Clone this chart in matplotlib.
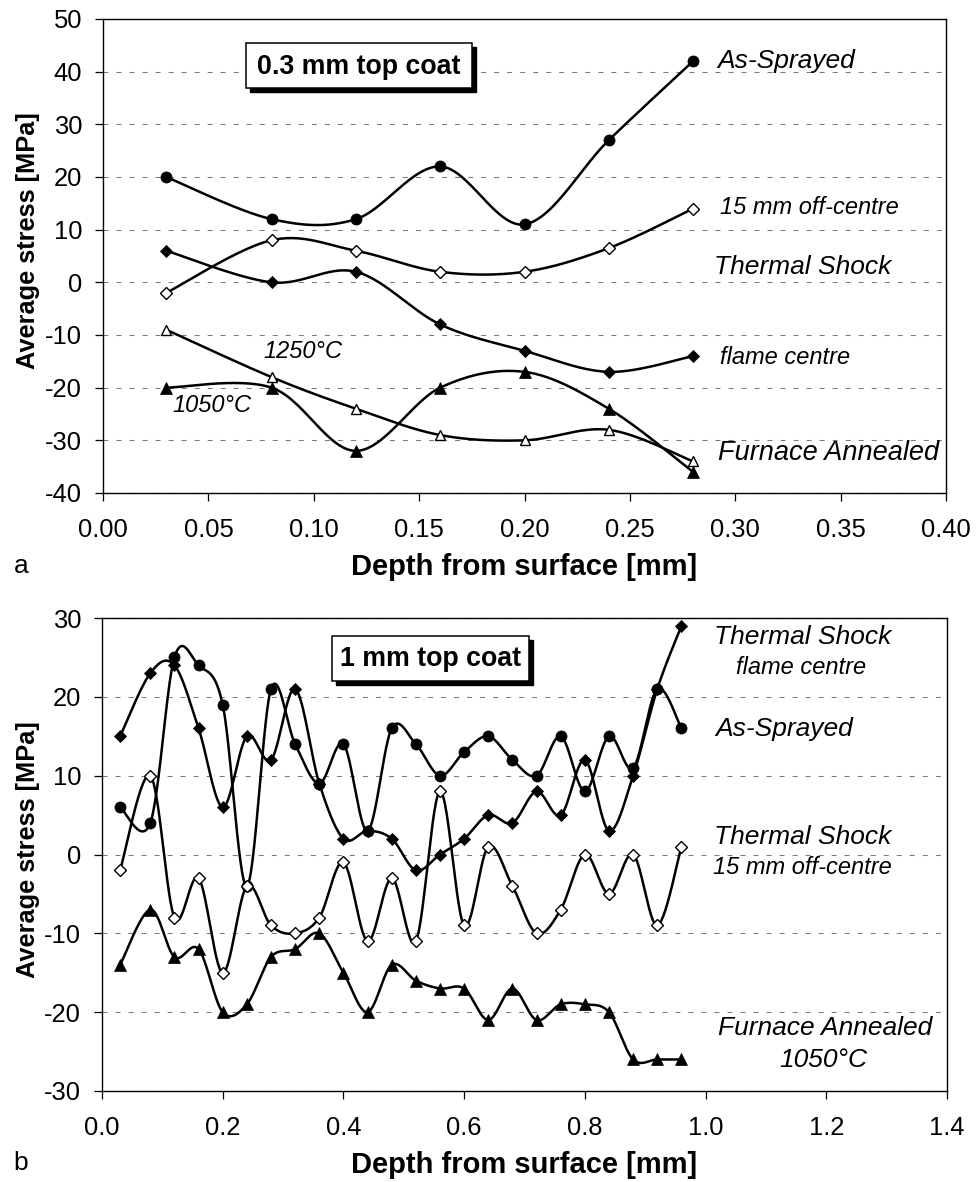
import numpy as np
import matplotlib
matplotlib.use('Agg')
import matplotlib.pyplot as plt
from matplotlib.patches import Rectangle

plt.rcParams['font.family'] = ['Liberation Sans', 'DejaVu Sans']

W, H = 980, 1182

# ---------------- data: (a) 0.3 mm top coat ----------------
depth_a = [0.03, 0.08, 0.12, 0.16, 0.20, 0.24, 0.28]
as_sprayed_a = [20, 12, 12, 22, 11, 27, 42]
ts_offcentre_a = [-2, 8, 6, 2, 2, 6.5, 14]
ts_flame_a = [6, 0, 2, -8, -13, -17, -14]
fa1250_a = [-9, -18, -24, -29, -30, -28, -34]
fa1050_a = [-20, -20, -32, -20, -17, -24, -36]

# ---------------- data: (b) 1 mm top coat ----------------
depth_b = [0.03, 0.08, 0.12, 0.16, 0.20, 0.24, 0.28, 0.32, 0.36, 0.40, 0.44, 0.48,
           0.52, 0.56, 0.60, 0.64, 0.68, 0.72, 0.76, 0.80, 0.84, 0.88, 0.92, 0.96]
as_sprayed_b = [6, 4, 25, 24, 19, -4, 21, 14, 9, 14, 3, 16,
                14, 10, 13, 15, 12, 10, 15, 8, 15, 11, 21, 16]
ts_flame_b = [15, 23, 24, 16, 6, 15, 12, 21, 9, 2, 3, 2,
              -2, 0, 2, 5, 4, 8, 5, 12, 3, 10, 21, 29]
ts_offcentre_b = [-2, 10, -8, -3, -15, -4, -9, -10, -8, -1, -11, -3,
                  -11, 8, -9, 1, -4, -10, -7, 0, -5, 0, -9, 1]
fa1050_b = [-14, -7, -13, -12, -20, -19, -13, -12, -10, -15, -20, -14,
            -16, -17, -17, -21, -17, -21, -19, -19, -20, -26, -26, -26]

xticks_a = [0.00, 0.05, 0.10, 0.15, 0.20, 0.25, 0.30, 0.35, 0.40]
yticks_a = [-40, -30, -20, -10, 0, 10, 20, 30, 40, 50]
xticks_b = [0.0, 0.2, 0.4, 0.6, 0.8, 1.0, 1.2, 1.4]
yticks_b = [-30, -20, -10, 0, 10, 20, 30]


def smooth(x, y, steps=30):
    """Excel-like smoothed line (cubic Bezier, 1/6 tangent rule)."""
    P = np.column_stack([x, y]).astype(float)
    n = len(P)
    t = np.linspace(0, 1, steps + 1)[1:][:, None]
    out = [P[0][None, :]]
    for i in range(n - 1):
        p0, p3 = P[i], P[i + 1]
        pm = P[i - 1] if i > 0 else P[i]
        pp = P[i + 2] if i + 2 < n else P[i + 1]
        c1 = p0 + (p3 - pm) / 6.0
        c2 = p3 - (pp - p0) / 6.0
        seg = ((1 - t) ** 3) * p0 + 3 * (1 - t) ** 2 * t * c1 + 3 * (1 - t) * t ** 2 * c2 + t ** 3 * p3
        out.append(seg)
    out = np.vstack(out)
    return out[:, 0], out[:, 1]


def fx(px):
    return px / W


def fy(py):
    return 1 - py / H


fig = plt.figure(figsize=(W / 100, H / 100), dpi=100)
fig.patch.set_facecolor('white')

ax1 = fig.add_axes([fx(103), fy(493), 843 / W, 474 / H])
ax2 = fig.add_axes([fx(102), fy(1091), 845 / W, 473 / H])

styles = {
    'circle': dict(marker='o', ms=8.0, mfc='black', mec='black', mew=0.5),
    'dfill': dict(marker='D', ms=6.3, mfc='black', mec='black', mew=0.6),
    'dopen': dict(marker='D', ms=6.0, mfc='white', mec='black', mew=1.0),
    'tfill': dict(marker='^', ms=8.0, mfc='black', mec='black', mew=0.5),
    'topen': dict(marker='^', ms=7.0, mfc='white', mec='black', mew=1.0),
}


def draw(ax, x, y, style, z):
    xs, ys = smooth(x, y)
    ax.plot(xs, ys, color='black', lw=1.8, zorder=z, solid_capstyle='round')
    ax.plot(x, y, linestyle='none', zorder=z + 0.5, **styles[style])


draw(ax1, depth_a, as_sprayed_a, 'circle', 3)
draw(ax1, depth_a, ts_offcentre_a, 'dopen', 4)
draw(ax1, depth_a, ts_flame_a, 'dfill', 5)
draw(ax1, depth_a, fa1250_a, 'topen', 6)
draw(ax1, depth_a, fa1050_a, 'tfill', 7)

draw(ax2, depth_b, as_sprayed_b, 'circle', 3)
draw(ax2, depth_b, ts_offcentre_b, 'dopen', 4)
draw(ax2, depth_b, ts_flame_b, 'dfill', 5)
draw(ax2, depth_b, fa1050_b, 'tfill', 6)

for ax, xt, yt, fmt in [(ax1, xticks_a, yticks_a, '{:.2f}'), (ax2, xticks_b, yticks_b, '{:.1f}')]:
    ax.set_xlim(xt[0], xt[-1])
    ax.set_ylim(yt[0], yt[-1])
    ax.set_xticks(xt)
    ax.set_xticklabels([fmt.format(v) for v in xt])
    ax.set_yticks(yt)
    ax.set_yticklabels([str(v) for v in yt])
    ax.tick_params(axis='both', direction='out', length=6, width=0.9, labelsize=18.4, colors='black')
    ax.tick_params(axis='x', pad=12)
    ax.tick_params(axis='y', pad=9)
    ax.yaxis.grid(True, color='#7a7a7a', linestyle=(0, (4.8, 7.7)), linewidth=0.75)
    ax.set_axisbelow(True)
    for s in ax.spines.values():
        s.set_color('black')
        s.set_linewidth(1.0)

# axis titles
fig.text(fx(524), fy(567), 'Depth from surface [mm]', ha='center', va='center',
         fontsize=21, fontweight='bold')
fig.text(fx(524), fy(1165), 'Depth from surface [mm]', ha='center', va='center',
         fontsize=21, fontweight='bold')
fig.text(fx(28), fy(241), 'Average stress [MPa]', ha='center', va='center',
         rotation=90, fontsize=18.3, fontweight='bold')
fig.text(fx(28), fy(850), 'Average stress [MPa]', ha='center', va='center',
         rotation=90, fontsize=18.3, fontweight='bold')
fig.text(fx(21), fy(566), 'a', ha='center', va='center', fontsize=19)
fig.text(fx(21), fy(1163), 'b', ha='center', va='center', fontsize=19)


def box(x0, y0, x1, y1, text):
    sh = 4
    fig.add_artist(Rectangle((fx(x0 + sh), fy(y1 + sh)), (x1 - x0) / W, (y1 - y0) / H,
                             transform=fig.transFigure, facecolor='black', edgecolor='black',
                             lw=1, zorder=20))
    fig.add_artist(Rectangle((fx(x0), fy(y1)), (x1 - x0) / W, (y1 - y0) / H,
                             transform=fig.transFigure, facecolor='white', edgecolor='black',
                             lw=1.1, zorder=21))
    fig.text(fx((x0 + x1) / 2), fy((y0 + y1) / 2 + 1), text, ha='center', va='center',
             fontsize=19.3, fontweight='bold', zorder=22)


box(246, 43, 472, 88, '0.3 mm top coat')
box(332, 636, 529, 681, '1 mm top coat')

# annotations (italic)
notes = [
    ('As-Sprayed', 717, 61, 'left', 19),
    ('15 mm off-centre', 720, 208, 'left', 17),
    ('Thermal Shock', 714, 267, 'left', 19),
    ('flame centre', 720, 357, 'left', 17),
    ('Furnace Annealed', 718, 453, 'left', 19.5),
    ('1250°C', 263, 351, 'left', 17),
    ('1050°C', 172, 405, 'left', 17),
    ('Thermal Shock', 803, 637, 'center', 19),
    ('flame centre', 801, 667, 'center', 17),
    ('As-Sprayed', 715, 729, 'left', 19),
    ('Thermal Shock', 803, 837, 'center', 19),
    ('15 mm off-centre', 802, 867, 'center', 17),
    ('Furnace Annealed', 825, 1028, 'center', 19),
    ('1050°C', 823, 1060, 'center', 19),
]
for txt, x, y, ha, fs in notes:
    fig.text(fx(x), fy(y), txt, ha=ha, va='center', fontsize=fs, fontstyle='italic', zorder=15)

fig.savefig('out.png', dpi=100)
